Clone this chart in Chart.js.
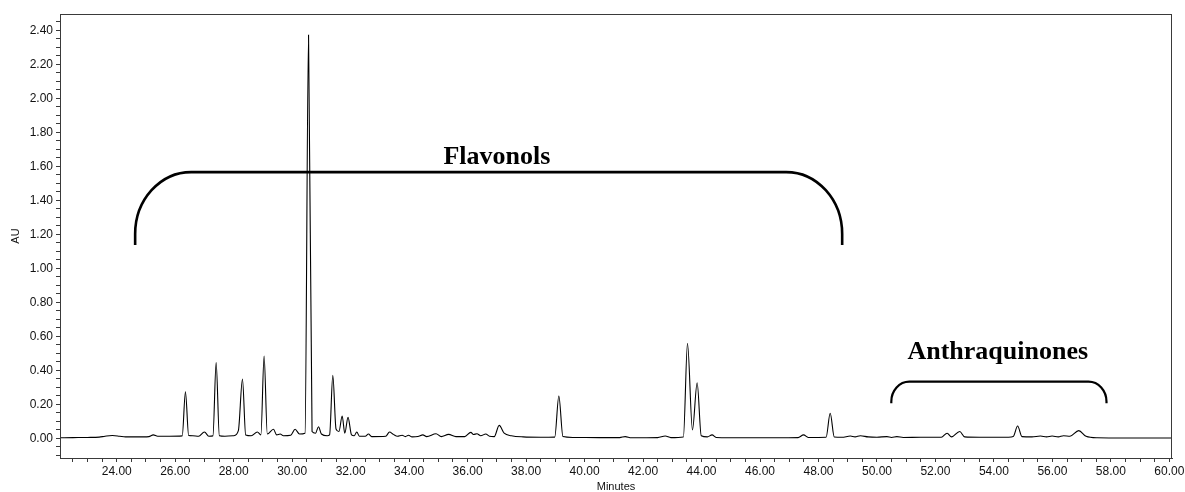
<!DOCTYPE html>
<html>
<head>
<meta charset="utf-8">
<style>
  html, body { margin: 0; padding: 0; background: #fff; }
  #chart { display: block; }
</style>
</head>
<body>
<canvas id="chart" width="1185" height="492"></canvas>
<script src="https://cdn.jsdelivr.net/npm/chart.js@4.4.1/dist/chart.umd.min.js"></script>
<script>
// chromatogram trace (retention time in minutes, absorbance in AU)
const MINUTES = [
  22.06, 22.5, 23.0, 23.4, 23.6, 23.85, 24.1, 24.3, 24.7, 25.1, 25.25, 25.4, 25.8,
  26.24, 26.35, 26.46, 26.6, 26.8, 27.0, 27.15, 27.29, 27.40, 27.51, 27.7, 28.0,
  28.16, 28.30, 28.41, 28.6, 28.81, 28.93, 29.04, 29.15, 29.36, 29.47, 29.59, 29.7,
  29.95, 30.10, 30.25, 30.44, 30.56, 30.68, 30.80, 30.90, 31.0, 31.2, 31.28, 31.39,
  31.5, 31.6, 31.71, 31.8, 31.91, 32.03, 32.12, 32.21, 32.3, 32.5, 32.61, 32.72,
  33.2, 33.33, 33.46, 33.6, 33.76, 33.87, 33.98, 34.1, 34.3, 34.47, 34.6, 34.92,
  35.1, 35.35, 35.6, 35.9, 36.11, 36.2, 36.32, 36.45, 36.62, 36.75, 36.91, 37.08,
  37.25, 37.5, 37.9, 38.5, 38.98, 39.12, 39.26, 39.6, 40.5, 41.2, 41.39, 41.6,
  42.5, 42.76, 42.95, 43.38, 43.52, 43.69, 43.85, 43.99, 44.2, 44.36, 44.5, 45.5,
  46.5, 47.3, 47.49, 47.65, 48.26, 48.40, 48.54, 48.8, 49.09, 49.25, 49.43, 49.7,
  50.0, 50.34, 50.5, 50.68, 50.9, 51.5, 52.2, 52.40, 52.55, 52.83, 53.0, 53.5,
  54.5, 54.66, 54.81, 54.96, 55.3, 55.59, 55.8, 55.99, 56.2, 56.38, 56.6, 56.9,
  57.15, 57.53, 58.5, 60.09
];
const AU = [
  0.003, 0.004, 0.005, 0.007, 0.012, 0.016, 0.012, 0.008, 0.008, 0.010, 0.020, 0.012, 0.012,
  0.014, 0.274, 0.016, 0.015, 0.012, 0.037, 0.012, 0.014, 0.445, 0.015, 0.012, 0.015,
  0.045, 0.349, 0.020, 0.015, 0.037, 0.020, 0.484, 0.025, 0.053, 0.020, 0.025, 0.015,
  0.018, 0.053, 0.025, 0.030, 2.372, 0.040, 0.030, 0.068, 0.025, 0.015, 0.020, 0.370,
  0.055, 0.040, 0.131, 0.030, 0.123, 0.020, 0.015, 0.037, 0.012, 0.012, 0.025, 0.010,
  0.012, 0.037, 0.023, 0.012, 0.018, 0.010, 0.018, 0.008, 0.010, 0.020, 0.010, 0.027,
  0.010, 0.023, 0.010, 0.010, 0.035, 0.022, 0.027, 0.015, 0.025, 0.012, 0.010, 0.076,
  0.030, 0.015, 0.008, 0.006, 0.007, 0.249, 0.010, 0.005, 0.004, 0.004, 0.010, 0.003,
  0.004, 0.013, 0.004, 0.008, 0.559, 0.049, 0.327, 0.015, 0.008, 0.020, 0.005, 0.003,
  0.003, 0.004, 0.020, 0.005, 0.006, 0.147, 0.008, 0.006, 0.013, 0.008, 0.015, 0.008,
  0.006, 0.010, 0.005, 0.010, 0.005, 0.006, 0.006, 0.030, 0.008, 0.040, 0.008, 0.006,
  0.006, 0.010, 0.072, 0.010, 0.008, 0.013, 0.008, 0.013, 0.008, 0.015, 0.012, 0.045,
  0.012, 0.003, 0.002, 0.002
];

const X_LABELED = [24, 26, 28, 30, 32, 34, 36, 38, 40, 42, 44, 46, 48, 50, 52, 54, 56, 58, 60];
const Y_LABELED = [0, 0.2, 0.4, 0.6, 0.8, 1.0, 1.2, 1.4, 1.6, 1.8, 2.0, 2.2, 2.4];
const X_RANGE = [22.06, 60.09];
const Y_RANGE = [-0.116, 2.496];
const X_MINOR = 0.5;
const Y_MINOR = 0.05;

// bracket annotations, in data units
const GROUPS = [
  { name: 'Flavonols', from: 24.63, to: 48.81, top: 1.566, foot: 1.137, textX: 37.0, textY: 1.612, r: [56, 62], w: 2.6 },
  { name: 'Anthraquinones', from: 50.49, to: 57.85, top: 0.333, foot: 0.206, textX: 54.13, textY: 0.465, r: [18, 20], w: 2.2 }
];

const INK = '#000';
const AXIS = '#3a3a3a';
const SANS = '"Liberation Sans", Arial, sans-serif';
const SERIF = '"Liberation Serif", "Times New Roman", serif';

function minorTicks(range, step) {
  const out = [];
  const first = Math.ceil(range[0] / step);
  const last = Math.floor(range[1] / step);
  for (let i = first; i <= last; i++) out.push(Math.round(i * step * 1000) / 1000);
  return out;
}
const X_TICKS = minorTicks(X_RANGE, X_MINOR);
const Y_TICKS = minorTicks(Y_RANGE, Y_MINOR);

const frame = {
  id: 'frame',
  afterDraw(chart) {
    const { ctx, chartArea: a } = chart;
    ctx.save();
    ctx.strokeStyle = AXIS;
    ctx.lineWidth = 1;
    ctx.strokeRect(a.left + 0.5, a.top + 0.5, a.right - a.left - 1, a.bottom - a.top);
    ctx.restore();
  }
};

const brackets = {
  id: 'brackets',
  afterDatasetsDraw(chart) {
    const { ctx, scales: { x, y } } = chart;
    ctx.save();
    ctx.strokeStyle = INK;
    ctx.fillStyle = INK;
    GROUPS.forEach((g) => {
      const x0 = x.getPixelForValue(g.from);
      const x1 = x.getPixelForValue(g.to);
      const yt = y.getPixelForValue(g.top);
      const yf = y.getPixelForValue(g.foot);
      const [rx, ry] = g.r;
      ctx.lineWidth = g.w;
      ctx.beginPath();
      ctx.moveTo(x0, yf);
      ctx.lineTo(x0, yt + ry);
      ctx.ellipse(x0 + rx, yt + ry, rx, ry, 0, Math.PI, Math.PI * 1.5);
      ctx.lineTo(x1 - rx, yt);
      ctx.ellipse(x1 - rx, yt + ry, rx, ry, 0, Math.PI * 1.5, Math.PI * 2);
      ctx.lineTo(x1, yf);
      ctx.stroke();

      ctx.font = 'bold 26px ' + SERIF;
      ctx.textAlign = 'center';
      ctx.textBaseline = 'alphabetic';
      ctx.fillText(g.name, x.getPixelForValue(g.textX), y.getPixelForValue(g.textY));
    });
    ctx.restore();
  }
};

new Chart(document.getElementById('chart'), {
  type: 'line',
  data: {
    datasets: [{
      data: MINUTES.map((m, i) => ({ x: m, y: AU[i] })),
      borderColor: INK,
      borderWidth: 1.1,
      pointRadius: 0,
      fill: false,
      cubicInterpolationMode: 'monotone'
    }]
  },
  options: {
    responsive: false,
    animation: false,
    devicePixelRatio: 1,
    layout: { padding: { top: 14, right: 13, bottom: 0, left: 0 } },
    plugins: { legend: { display: false }, tooltip: { enabled: false } },
    scales: {
      x: {
        type: 'linear',
        min: X_RANGE[0],
        max: X_RANGE[1],
        afterBuildTicks: (s) => { s.ticks = X_TICKS.map((v) => ({ value: v })); },
        afterFit: (s) => { s.height = 34; s.paddingLeft = 0; s.paddingRight = 0; },
        grid: { drawOnChartArea: false, tickLength: 4, color: AXIS },
        border: { color: AXIS },
        ticks: {
          autoSkip: false,
          maxRotation: 0,
          padding: 2,
          color: '#111',
          font: { family: SANS, size: 12 },
          callback: (v) => (X_LABELED.includes(v) ? v.toFixed(2) : '')
        },
        title: {
          display: true,
          text: 'Minutes',
          color: '#111',
          padding: { top: 0, bottom: 0 },
          font: { family: SANS, size: 11, lineHeight: 1 }
        }
      },
      y: {
        min: Y_RANGE[0],
        max: Y_RANGE[1],
        afterBuildTicks: (s) => { s.ticks = Y_TICKS.map((v) => ({ value: v })); },
        afterFit: (s) => { s.width = 60; s.paddingTop = 0; s.paddingBottom = 0; },
        grid: { drawOnChartArea: false, tickLength: 4, color: AXIS },
        border: { color: AXIS },
        ticks: {
          autoSkip: false,
          padding: 3,
          color: '#111',
          font: { family: SANS, size: 12 },
          callback: (v) => (Y_LABELED.some((l) => Math.abs(l - v) < 1e-6) ? v.toFixed(2) : '')
        },
        title: {
          display: true,
          text: 'AU',
          color: '#111',
          padding: { top: 9, bottom: 0 },
          font: { family: SANS, size: 11 }
        }
      }
    }
  },
  plugins: [frame, brackets]
});
</script>
</body>
</html>
